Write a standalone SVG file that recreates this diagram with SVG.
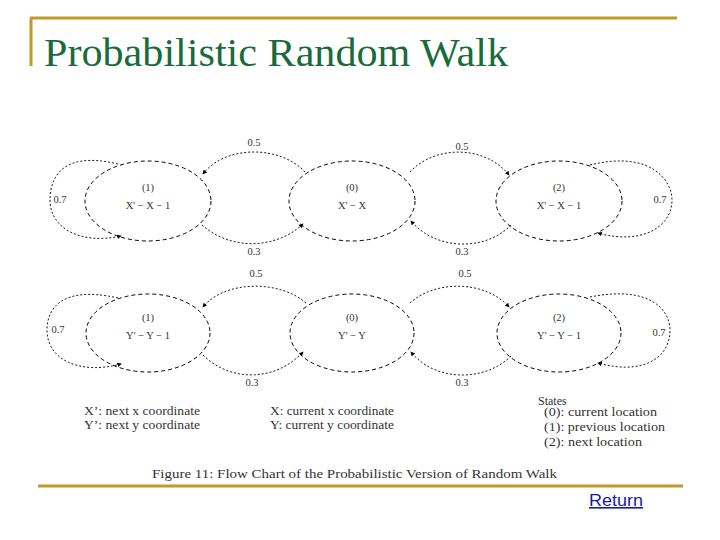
<svg xmlns="http://www.w3.org/2000/svg" width="720" height="540" viewBox="0 0 720 540">
<style>
.n{fill:none;stroke:#000;stroke-width:1;stroke-dasharray:4 3}
.c{fill:none;stroke:#000;stroke-width:0.9;stroke-dasharray:2 2}
.t{font-family:"Liberation Serif",serif;font-size:10.5px;fill:#333;text-anchor:middle}
.l{font-family:"Liberation Serif",serif;font-size:12px;fill:#333}
</style>
<defs><marker id="a" viewBox="0 0 6 6" refX="5" refY="3" markerWidth="5" markerHeight="5" orient="auto"><path d="M0,0L6,3L0,6z" fill="#000"/></marker></defs>
<g id="frame">
<path d="M30,18H677M31,18V66" stroke="#c09a2a" stroke-width="3" fill="none"/>
<path d="M38,486H683" stroke="#c09a2a" stroke-width="3"/>
<text x="44" y="66" font-family="Liberation Serif,serif" font-size="40" fill="#1a6b3c" textLength="464" lengthAdjust="spacingAndGlyphs">Probabilistic Random Walk</text>
<text x="589" y="506" font-family="Liberation Sans,sans-serif" font-size="16" fill="#1a1aa6" text-decoration="underline" textLength="54" lengthAdjust="spacingAndGlyphs">Return</text>
</g>
<g id="x1"><ellipse class="n" cx="148" cy="201" rx="63" ry="40"/><text class="t" x="148" y="191">(1)</text><text class="t" x="148" y="209">X' − X − 1</text></g>
<g id="x0"><ellipse class="n" cx="352" cy="201" rx="63" ry="40"/><text class="t" x="352" y="191">(0)</text><text class="t" x="352" y="209">X' − X</text></g>
<g id="x2"><ellipse class="n" cx="559" cy="201" rx="63" ry="40"/><text class="t" x="559" y="191">(2)</text><text class="t" x="559" y="209">X' − X − 1</text></g>
<g id="y1"><ellipse class="n" cx="148" cy="333" rx="62" ry="39"/><text class="t" x="148" y="321">(1)</text><text class="t" x="148" y="339">Y' − Y − 1</text></g>
<g id="y0"><ellipse class="n" cx="352" cy="333" rx="62" ry="39"/><text class="t" x="352" y="321">(0)</text><text class="t" x="352" y="339">Y' − Y</text></g>
<g id="y2"><ellipse class="n" cx="559" cy="333" rx="62" ry="39"/><text class="t" x="559" y="321">(2)</text><text class="t" x="559" y="339">Y' − Y − 1</text></g>
<g id="connectors">
<path class="c" d="M118,164C60,150 50,180 50,200C50,228 80,245 121,236" marker-end="url(#a)"/>
<path class="c" d="M305,172C280,145 225,145 203,174" marker-end="url(#a)"/>
<path class="c" d="M202,225C230,250 275,250 303,224" marker-end="url(#a)"/>
<path class="c" d="M410,172C435,145 485,145 509,175" marker-end="url(#a)"/>
<path class="c" d="M511,225C485,252 435,250 411,221" marker-end="url(#a)"/>
<path class="c" d="M590,165C650,150 672,180 672,200C672,228 640,245 598,233" marker-end="url(#a)"/>
<path class="c" d="M118,298C60,285 47,310 47,330C47,360 80,375 121,364" marker-end="url(#a)"/>
<path class="c" d="M306,303C280,280 225,280 203,307" marker-end="url(#a)"/>
<path class="c" d="M203,355C230,382 275,382 303,352" marker-end="url(#a)"/>
<path class="c" d="M410,303C435,280 485,280 509,307" marker-end="url(#a)"/>
<path class="c" d="M511,356C485,382 435,382 411,352" marker-end="url(#a)"/>
<path class="c" d="M590,297C650,285 670,310 670,330C670,360 640,375 598,363" marker-end="url(#a)"/>
<text class="t" x="60" y="203">0.7</text><text class="t" x="254" y="146">0.5</text><text class="t" x="254" y="255">0.3</text>
<text class="t" x="462" y="150">0.5</text><text class="t" x="462" y="255">0.3</text><text class="t" x="660" y="203">0.7</text>
<text class="t" x="58" y="333">0.7</text><text class="t" x="256" y="277">0.5</text><text class="t" x="252" y="386">0.3</text>
<text class="t" x="465" y="277">0.5</text><text class="t" x="462" y="386">0.3</text><text class="t" x="659" y="336">0.7</text>
</g>
<g id="legend">
<text class="l" x="84" y="415" textLength="116" lengthAdjust="spacingAndGlyphs">X’:  next x coordinate</text>
<text class="l" x="84" y="429" textLength="116" lengthAdjust="spacingAndGlyphs">Y’:  next y coordinate</text>
<text class="l" x="270" y="415" textLength="124" lengthAdjust="spacingAndGlyphs">X:  current x coordinate</text>
<text class="l" x="270" y="429" textLength="124" lengthAdjust="spacingAndGlyphs">Y:  current y coordinate</text>
<text class="l" x="538" y="405">States</text>
<text class="l" x="544" y="416" textLength="113" lengthAdjust="spacingAndGlyphs">(0):  current location</text>
<text class="l" x="544" y="431" textLength="121" lengthAdjust="spacingAndGlyphs">(1):  previous location</text>
<text class="l" x="544" y="446" textLength="98" lengthAdjust="spacingAndGlyphs">(2):  next location</text>
<text class="l" x="152" y="478" font-size="13" textLength="405" lengthAdjust="spacingAndGlyphs">Figure 11: Flow Chart of the Probabilistic Version of Random Walk</text>
</g>
</svg>
